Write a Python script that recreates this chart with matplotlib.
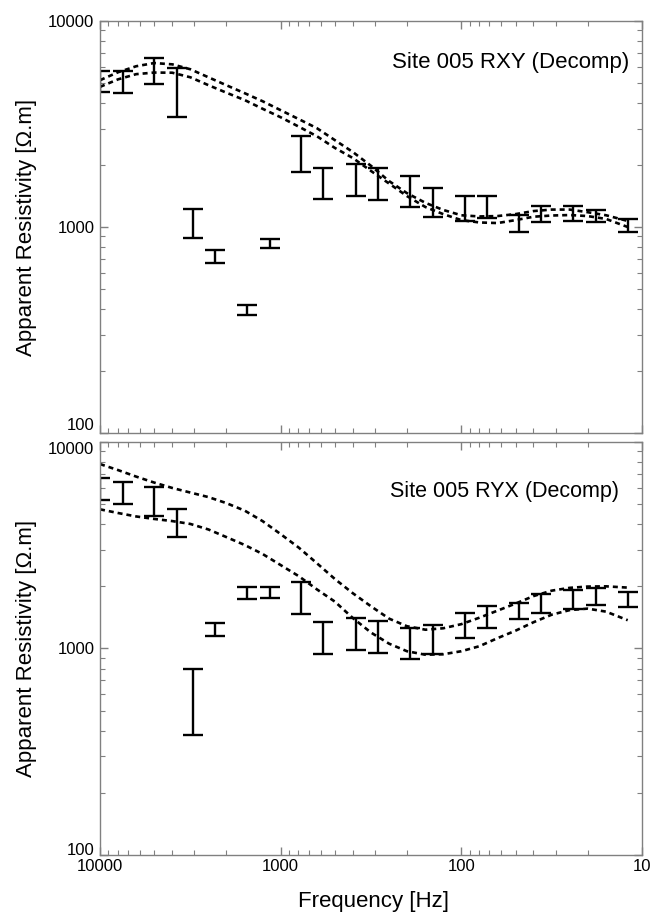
import matplotlib
matplotlib.use("Agg")
import matplotlib.pyplot as plt

plt.rcParams['font.family'] = ['Liberation Sans', 'DejaVu Sans']

# station frequencies (Hz)
freq = [10000, 7500, 5000, 3750, 3070, 2300, 1540, 1150, 770, 580, 384,
        288, 192, 144, 96, 72, 48, 36, 24, 18, 12]

# RXY error bars (low / high, ohm.m)
rxy_hi = [5700, 5730, 6590, 5915, 1218, 774, 419, 877, 2780, 1937, 2014,
          1944, 1775, 1541, 1413, 1413, 1143, 1268, 1265, 1208, 1097]
rxy_lo = [4510, 4450, 4920, 3405, 885, 670, 374, 789, 1853, 1368, 1413,
          1352, 1254, 1123, 1073, 1103, 942, 1061, 1066, 1057, 942]

# RYX error bars
ryx_hi = [6730, 6370, 6025, 4730, 795, 1336, 1990, 1990, 2105, 1345, 1410,
          1358, 1260, 1297, 1480, 1605, 1665, 1828, 1920, 1956, 1882]
ryx_lo = [5245, 5000, 4385, 3480, 381, 1148, 1734, 1750, 1468, 938, 982,
          955, 887, 942, 1130, 1250, 1383, 1480, 1557, 1623, 1593]

# model response curves
curve_freq = [10000, 7940, 6310, 5010, 3980, 3160, 2510, 2000, 1580, 1260,
              1000, 794, 631, 501, 398, 316, 251, 200, 158, 126,
              100, 79.4, 63.1, 50.1, 39.8, 31.6, 25.1, 20.0, 15.8, 12.0]
rxy_up = [5160, 5640, 6030, 6250, 6160, 5830, 5330, 4880, 4460, 4080,
          3690, 3340, 3020, 2640, 2310, 1980, 1670, 1460, 1310, 1210,
          1140, 1125, 1130, 1155, 1195, 1215, 1215, 1180, 1140, 1070]
rxy_dn = [4790, 5210, 5520, 5620, 5610, 5330, 4880, 4490, 4130, 3750,
          3410, 3070, 2760, 2420, 2160, 1870, 1625, 1413, 1250, 1155,
          1080, 1052, 1045, 1080, 1122, 1137, 1143, 1130, 1094, 1000]
ryx_up = [7820, 7310, 6800, 6360, 5990, 5690, 5410, 5060, 4650, 4140,
          3580, 3080, 2590, 2170, 1850, 1600, 1395, 1282, 1233, 1253,
          1312, 1410, 1525, 1650, 1795, 1906, 1967, 1995, 2000, 1972]
ryx_dn = [4720, 4530, 4360, 4240, 4140, 4010, 3770, 3465, 3170, 2870,
          2535, 2240, 1935, 1686, 1403, 1194, 1055, 970, 933, 938,
          970, 1026, 1122, 1220, 1341, 1458, 1535, 1560, 1508, 1371]

fig = plt.figure(figsize=(6.52, 9.16), dpi=100)
ax1 = fig.add_axes([100/652, 1-433/916, 542/652, 412/916])
ax2 = fig.add_axes([100/652, 1-855/916, 542/652, 413/916])

panels = [
    (ax1, rxy_lo, rxy_hi, rxy_up, rxy_dn, 'Site 005 RXY (Decomp)', 0.90),
    (ax2, ryx_lo, ryx_hi, ryx_up, ryx_dn, 'Site 005 RYX (Decomp)', 0.879),
]

for ax, lo, hi, up, dn, title, ty in panels:
    mid = [(a*b) ** 0.5 for a, b in zip(lo, hi)]
    err = [[m - a for m, a in zip(mid, lo)], [b - m for m, b in zip(mid, hi)]]
    ax.errorbar(freq, mid, yerr=err, fmt='none', ecolor='black',
                elinewidth=1.7, capsize=7.5, capthick=1.7)
    for c in (up, dn):
        ax.plot(curve_freq, c, color='black', lw=1.9, ls=(0, (1.9, 1.5)))
    ax.set_xscale('log')
    ax.set_yscale('log')
    ax.set_xlim(10000, 10)
    ax.set_ylim(100, 10000)
    ax.set_yticks([100, 1000, 10000])
    ylabels = ax.set_yticklabels(['100', '1000', '10000'])
    ax.tick_params(which='both', direction='in', top=True, right=True,
                   colors='#808080', labelcolor='black', labelsize=12)
    ax.tick_params(which='major', length=6, width=1)
    ax.tick_params(which='minor', length=3.5, width=0.8)
    ax.tick_params(axis='y', pad=4)
    for s in ax.spines.values():
        s.set_color('#808080')
        s.set_linewidth(1.0)
    ax.text(0.976 if ax is ax1 else 0.958, ty, title, transform=ax.transAxes,
            ha='right', va='center', fontsize=16 if ax is ax1 else 15.5)
    if ax is ax1:
        ylabels[0].set_va('bottom')
    else:
        ylabels[0].set_va('baseline')
        ylabels[2].set_va('top')

ax1.set_xticks([10000, 1000, 100, 10])
ax1.set_xticklabels([])
ax2.set_xticks([10000, 1000, 100, 10])
ax2.set_xticklabels(['10000', '1000', '100', '10'])
ax2.tick_params(axis='x', pad=3)

for yc in (227, 648):
    fig.text(27/652, 1-yc/916, 'Apparent Resistivity [\u03a9.m]', rotation=90,
             ha='center', va='center', fontsize=16)
fig.text(373/652, 1-902/916, 'Frequency [Hz]', ha='center', va='center',
         fontsize=16)

fig.savefig('out.png', dpi=100)
